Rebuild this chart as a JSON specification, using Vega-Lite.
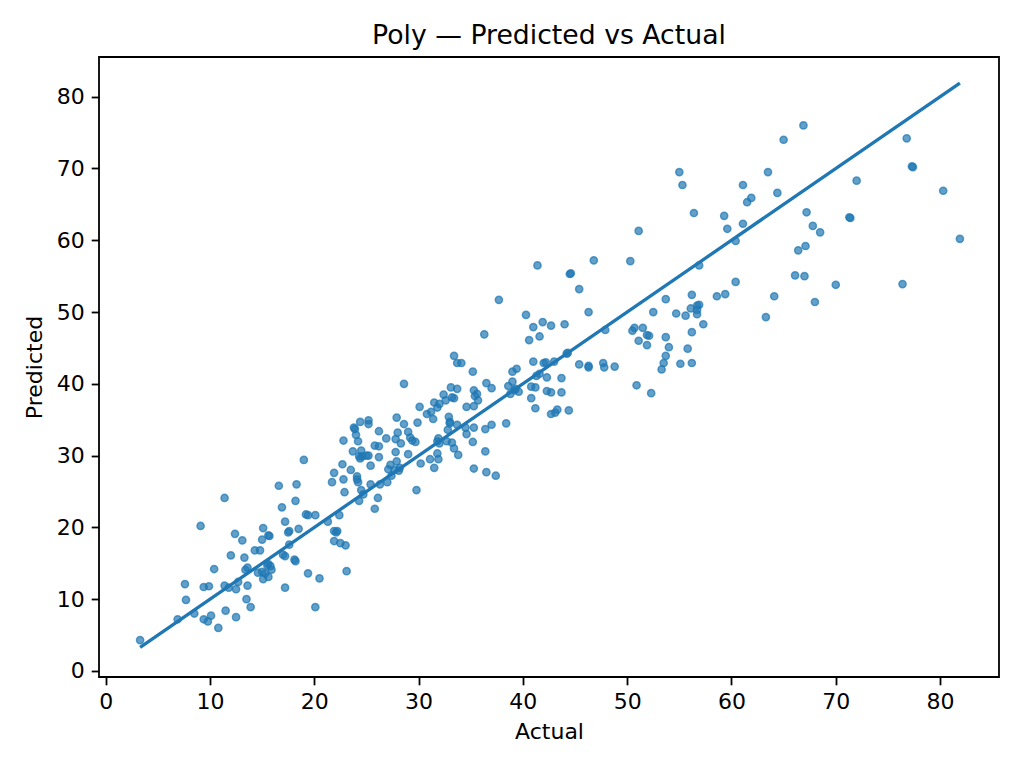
{
  "$schema": "https://vega.github.io/schema/vega-lite/v6.json",
  "width": 900,
  "height": 620,
  "autosize": {"type": "none"},
  "padding": {"left": 99, "top": 57, "right": 25, "bottom": 91},
  "background": "white",
  "config": {
    "font": "DejaVu Sans",
    "view": {"stroke": "#000000", "strokeWidth": 1.8},
    "axis": {
      "grid": false,
      "domain": false,
      "tickColor": "#000000",
      "tickSize": 7.8,
      "tickWidth": 1.8,
      "labelColor": "#000000",
      "labelFont": "DejaVu Sans",
      "labelFontSize": 22,
      "labelPadding": 7,
      "titleFont": "DejaVu Sans",
      "titleFontSize": 22,
      "titleFontWeight": "normal",
      "titleColor": "#000000"
    }
  },
  "title": {
    "text": "Poly — Predicted vs Actual",
    "font": "DejaVu Sans",
    "fontSize": 26.7,
    "fontWeight": "normal",
    "color": "#000000",
    "anchor": "middle",
    "baseline": "alphabetic",
    "offset": 13,
    "dy": 27
  },
  "datasets": {
    "points": [
      {"actual": 3.3, "predicted": 4.3}, {"actual": 11.4, "predicted": 24.1}, {"actual": 9.1, "predicted": 20.2},
      {"actual": 16.6, "predicted": 25.8}, {"actual": 18.3, "predicted": 26.0}, {"actual": 16.9, "predicted": 22.8},
      {"actual": 18.2, "predicted": 23.7}, {"actual": 19.2, "predicted": 21.8}, {"actual": 19.4, "predicted": 21.7},
      {"actual": 20.1, "predicted": 21.7}, {"actual": 17.2, "predicted": 20.8}, {"actual": 18.5, "predicted": 19.8},
      {"actual": 17.6, "predicted": 19.5}, {"actual": 17.5, "predicted": 19.3}, {"actual": 15.1, "predicted": 19.9},
      {"actual": 12.4, "predicted": 19.1}, {"actual": 13.1, "predicted": 18.2}, {"actual": 15.6, "predicted": 18.9},
      {"actual": 15.7, "predicted": 18.8}, {"actual": 15.0, "predicted": 18.3}, {"actual": 17.6, "predicted": 17.6},
      {"actual": 14.3, "predicted": 16.8}, {"actual": 14.8, "predicted": 16.8}, {"actual": 12.0, "predicted": 16.1},
      {"actual": 13.3, "predicted": 15.8}, {"actual": 17.0, "predicted": 16.2}, {"actual": 17.2, "predicted": 16.0},
      {"actual": 18.1, "predicted": 15.5}, {"actual": 18.2, "predicted": 15.3}, {"actual": 10.4, "predicted": 14.2},
      {"actual": 13.4, "predicted": 14.1}, {"actual": 13.6, "predicted": 14.4}, {"actual": 15.6, "predicted": 14.9},
      {"actual": 15.5, "predicted": 14.7}, {"actual": 15.8, "predicted": 14.6}, {"actual": 15.9, "predicted": 14.1},
      {"actual": 14.6, "predicted": 13.7}, {"actual": 15.0, "predicted": 13.8}, {"actual": 15.3, "predicted": 13.6},
      {"actual": 15.1, "predicted": 12.8}, {"actual": 15.6, "predicted": 13.1}, {"actual": 12.7, "predicted": 12.4},
      {"actual": 11.4, "predicted": 11.9}, {"actual": 11.8, "predicted": 11.6}, {"actual": 12.5, "predicted": 11.4},
      {"actual": 13.6, "predicted": 11.9}, {"actual": 9.4, "predicted": 11.7}, {"actual": 9.9, "predicted": 11.8},
      {"actual": 7.6, "predicted": 12.1}, {"actual": 7.7, "predicted": 9.9}, {"actual": 19.4, "predicted": 13.6},
      {"actual": 17.2, "predicted": 11.6}, {"actual": 13.5, "predicted": 10.0}, {"actual": 13.9, "predicted": 8.9},
      {"actual": 11.5, "predicted": 8.4}, {"actual": 12.5, "predicted": 7.5}, {"actual": 8.5, "predicted": 8.0},
      {"actual": 6.9, "predicted": 7.2}, {"actual": 9.4, "predicted": 7.2}, {"actual": 9.8, "predicted": 6.9},
      {"actual": 10.1, "predicted": 7.7}, {"actual": 10.8, "predicted": 6.0}, {"actual": 20.1, "predicted": 8.9},
      {"actual": 20.5, "predicted": 12.9},
      {"actual": 28.6, "predicted": 40.0}, {"actual": 33.1, "predicted": 39.5}, {"actual": 33.7, "predicted": 39.3},
      {"actual": 32.4, "predicted": 38.5}, {"actual": 32.6, "predicted": 37.7}, {"actual": 33.2, "predicted": 38.1},
      {"actual": 33.4, "predicted": 38.0}, {"actual": 35.3, "predicted": 39.1}, {"actual": 35.6, "predicted": 38.6},
      {"actual": 35.4, "predicted": 38.3}, {"actual": 35.7, "predicted": 37.7}, {"actual": 35.3, "predicted": 36.9},
      {"actual": 34.6, "predicted": 36.8}, {"actual": 30.1, "predicted": 36.8}, {"actual": 30.8, "predicted": 35.8},
      {"actual": 31.2, "predicted": 36.1}, {"actual": 31.4, "predicted": 35.1}, {"actual": 27.9, "predicted": 35.3},
      {"actual": 29.9, "predicted": 34.6}, {"actual": 32.9, "predicted": 35.4}, {"actual": 33.0, "predicted": 34.7},
      {"actual": 33.0, "predicted": 34.5}, {"actual": 33.7, "predicted": 34.3}, {"actual": 34.5, "predicted": 33.9},
      {"actual": 35.3, "predicted": 33.9}, {"actual": 28.6, "predicted": 34.4}, {"actual": 29.0, "predicted": 33.3},
      {"actual": 28.0, "predicted": 33.2}, {"actual": 24.4, "predicted": 34.7}, {"actual": 25.2, "predicted": 34.9},
      {"actual": 25.2, "predicted": 34.4}, {"actual": 23.8, "predicted": 33.9}, {"actual": 23.9, "predicted": 33.7},
      {"actual": 26.2, "predicted": 33.4}, {"actual": 24.0, "predicted": 32.9}, {"actual": 24.2, "predicted": 32.0},
      {"actual": 22.8, "predicted": 32.1}, {"actual": 26.9, "predicted": 32.4}, {"actual": 27.8, "predicted": 32.3},
      {"actual": 28.3, "predicted": 31.7}, {"actual": 29.2, "predicted": 32.5}, {"actual": 29.4, "predicted": 32.1},
      {"actual": 29.7, "predicted": 31.9}, {"actual": 31.9, "predicted": 32.4}, {"actual": 31.8, "predicted": 32.0},
      {"actual": 32.0, "predicted": 31.7}, {"actual": 32.7, "predicted": 32.0}, {"actual": 33.2, "predicted": 31.8},
      {"actual": 33.4, "predicted": 31.0}, {"actual": 33.8, "predicted": 30.1}, {"actual": 34.6, "predicted": 33.0},
      {"actual": 35.2, "predicted": 31.9}, {"actual": 25.8, "predicted": 31.4}, {"actual": 26.2, "predicted": 31.3},
      {"actual": 23.7, "predicted": 30.6}, {"actual": 24.5, "predicted": 30.7}, {"actual": 24.3, "predicted": 29.9},
      {"actual": 24.6, "predicted": 29.9}, {"actual": 25.0, "predicted": 30.0}, {"actual": 24.4, "predicted": 29.6},
      {"actual": 25.2, "predicted": 30.0}, {"actual": 26.2, "predicted": 29.8}, {"actual": 27.8, "predicted": 30.5},
      {"actual": 29.0, "predicted": 30.2}, {"actual": 31.1, "predicted": 29.5}, {"actual": 31.9, "predicted": 29.5},
      {"actual": 31.8, "predicted": 30.3}, {"actual": 31.5, "predicted": 28.3}, {"actual": 30.2, "predicted": 28.9},
      {"actual": 35.3, "predicted": 28.2}, {"actual": 19.0, "predicted": 29.4}, {"actual": 22.7, "predicted": 28.8},
      {"actual": 21.9, "predicted": 27.6}, {"actual": 21.7, "predicted": 26.3}, {"actual": 23.5, "predicted": 28.0},
      {"actual": 22.8, "predicted": 26.7}, {"actual": 22.9, "predicted": 24.9}, {"actual": 24.1, "predicted": 27.1},
      {"actual": 24.1, "predicted": 26.7}, {"actual": 24.2, "predicted": 26.3}, {"actual": 25.4, "predicted": 28.6},
      {"actual": 24.5, "predicted": 25.2}, {"actual": 24.7, "predicted": 24.6}, {"actual": 24.3, "predicted": 23.7},
      {"actual": 25.4, "predicted": 26.0}, {"actual": 26.3, "predicted": 26.0}, {"actual": 27.0, "predicted": 26.3},
      {"actual": 27.4, "predicted": 27.2}, {"actual": 27.1, "predicted": 28.1}, {"actual": 27.7, "predicted": 28.0},
      {"actual": 28.1, "predicted": 27.9}, {"actual": 28.2, "predicted": 28.3}, {"actual": 27.3, "predicted": 28.7},
      {"actual": 27.9, "predicted": 29.2}, {"actual": 29.8, "predicted": 25.2}, {"actual": 26.1, "predicted": 24.1},
      {"actual": 25.8, "predicted": 22.6}, {"actual": 22.4, "predicted": 21.7}, {"actual": 21.3, "predicted": 20.8},
      {"actual": 21.9, "predicted": 19.5}, {"actual": 22.2, "predicted": 19.5}, {"actual": 22.1, "predicted": 19.3},
      {"actual": 21.9, "predicted": 18.1}, {"actual": 22.5, "predicted": 17.8}, {"actual": 23.0, "predicted": 17.5},
      {"actual": 23.1, "predicted": 13.9},
      {"actual": 41.4, "predicted": 56.5}, {"actual": 46.8, "predicted": 57.2}, {"actual": 44.5, "predicted": 55.3},
      {"actual": 44.6, "predicted": 55.4}, {"actual": 45.4, "predicted": 53.2}, {"actual": 37.7, "predicted": 51.7},
      {"actual": 46.3, "predicted": 50.0}, {"actual": 40.3, "predicted": 49.6}, {"actual": 41.0, "predicted": 47.9},
      {"actual": 41.9, "predicted": 48.6}, {"actual": 42.7, "predicted": 48.1}, {"actual": 44.0, "predicted": 48.3},
      {"actual": 40.6, "predicted": 46.1}, {"actual": 41.6, "predicted": 46.6}, {"actual": 36.3, "predicted": 46.9},
      {"actual": 44.2, "predicted": 44.2}, {"actual": 44.3, "predicted": 44.3}, {"actual": 45.4, "predicted": 42.7},
      {"actual": 46.3, "predicted": 42.5}, {"actual": 46.3, "predicted": 42.3}, {"actual": 33.4, "predicted": 43.9},
      {"actual": 33.7, "predicted": 42.9}, {"actual": 34.1, "predicted": 42.9}, {"actual": 35.2, "predicted": 41.7},
      {"actual": 39.0, "predicted": 41.7}, {"actual": 39.4, "predicted": 42.1}, {"actual": 41.0, "predicted": 43.1},
      {"actual": 42.0, "predicted": 42.9}, {"actual": 42.2, "predicted": 43.0}, {"actual": 43.0, "predicted": 43.1},
      {"actual": 41.3, "predicted": 41.1}, {"actual": 41.6, "predicted": 41.4}, {"actual": 42.3, "predicted": 40.9},
      {"actual": 43.7, "predicted": 40.8}, {"actual": 36.5, "predicted": 40.1}, {"actual": 37.0, "predicted": 39.4},
      {"actual": 38.6, "predicted": 39.7}, {"actual": 39.0, "predicted": 40.3}, {"actual": 39.2, "predicted": 39.1},
      {"actual": 39.6, "predicted": 38.9}, {"actual": 38.8, "predicted": 38.6}, {"actual": 39.3, "predicted": 39.3},
      {"actual": 40.8, "predicted": 39.6}, {"actual": 41.2, "predicted": 39.5}, {"actual": 40.8, "predicted": 38.0},
      {"actual": 42.3, "predicted": 39.0}, {"actual": 42.7, "predicted": 38.8}, {"actual": 43.7, "predicted": 38.8},
      {"actual": 41.2, "predicted": 36.6}, {"actual": 42.7, "predicted": 35.8}, {"actual": 43.1, "predicted": 36.0},
      {"actual": 43.3, "predicted": 36.4}, {"actual": 44.4, "predicted": 36.3}, {"actual": 38.4, "predicted": 34.5},
      {"actual": 31.5, "predicted": 37.4}, {"actual": 31.8, "predicted": 36.7}, {"actual": 32.0, "predicted": 37.2},
      {"actual": 32.8, "predicted": 33.6}, {"actual": 36.4, "predicted": 33.7}, {"actual": 37.0, "predicted": 34.3},
      {"actual": 36.4, "predicted": 30.6}, {"actual": 36.5, "predicted": 27.7}, {"actual": 37.4, "predicted": 27.2},
      {"actual": 55.0, "predicted": 69.5}, {"actual": 55.3, "predicted": 67.7}, {"actual": 63.5, "predicted": 69.5},
      {"actual": 61.1, "predicted": 67.7}, {"actual": 64.4, "predicted": 66.6}, {"actual": 61.9, "predicted": 65.9},
      {"actual": 61.5, "predicted": 65.3}, {"actual": 56.4, "predicted": 63.8}, {"actual": 59.3, "predicted": 63.4},
      {"actual": 59.6, "predicted": 61.6}, {"actual": 61.1, "predicted": 62.3}, {"actual": 51.1, "predicted": 61.3},
      {"actual": 60.4, "predicted": 59.9}, {"actual": 50.3, "predicted": 57.1}, {"actual": 56.9, "predicted": 56.5},
      {"actual": 66.4, "predicted": 58.6}, {"actual": 66.1, "predicted": 55.1}, {"actual": 60.4, "predicted": 54.2},
      {"actual": 64.1, "predicted": 52.2}, {"actual": 63.3, "predicted": 49.3}, {"actual": 53.7, "predicted": 51.8},
      {"actual": 56.2, "predicted": 52.4}, {"actual": 58.6, "predicted": 52.2}, {"actual": 59.4, "predicted": 52.5},
      {"actual": 52.5, "predicted": 50.0}, {"actual": 54.7, "predicted": 49.8}, {"actual": 55.6, "predicted": 49.5},
      {"actual": 56.1, "predicted": 50.5}, {"actual": 56.7, "predicted": 50.9}, {"actual": 56.9, "predicted": 51.0},
      {"actual": 56.7, "predicted": 50.3}, {"actual": 56.7, "predicted": 49.7}, {"actual": 57.3, "predicted": 48.3},
      {"actual": 56.2, "predicted": 47.2}, {"actual": 47.9, "predicted": 47.5}, {"actual": 50.7, "predicted": 47.8},
      {"actual": 50.5, "predicted": 47.4}, {"actual": 51.5, "predicted": 47.8}, {"actual": 51.9, "predicted": 46.8},
      {"actual": 52.1, "predicted": 46.7}, {"actual": 51.1, "predicted": 46.0}, {"actual": 51.9, "predicted": 45.4},
      {"actual": 53.7, "predicted": 46.5}, {"actual": 54.0, "predicted": 45.1}, {"actual": 55.8, "predicted": 44.9},
      {"actual": 53.7, "predicted": 43.9}, {"actual": 53.5, "predicted": 42.9}, {"actual": 53.3, "predicted": 42.0},
      {"actual": 55.1, "predicted": 42.8}, {"actual": 56.2, "predicted": 42.9}, {"actual": 47.7, "predicted": 42.9},
      {"actual": 47.8, "predicted": 42.3}, {"actual": 48.8, "predicted": 42.4}, {"actual": 50.9, "predicted": 39.8},
      {"actual": 52.3, "predicted": 38.7},
      {"actual": 66.9, "predicted": 76.0}, {"actual": 65.0, "predicted": 74.0}, {"actual": 76.8, "predicted": 74.2},
      {"actual": 77.4, "predicted": 70.2}, {"actual": 77.3, "predicted": 70.3}, {"actual": 72.0, "predicted": 68.3},
      {"actual": 80.3, "predicted": 66.9}, {"actual": 67.2, "predicted": 63.9}, {"actual": 71.4, "predicted": 63.1},
      {"actual": 71.3, "predicted": 63.2}, {"actual": 67.8, "predicted": 62.0}, {"actual": 68.5, "predicted": 61.1},
      {"actual": 81.9, "predicted": 60.2}, {"actual": 67.1, "predicted": 59.2}, {"actual": 67.0, "predicted": 55.0},
      {"actual": 70.0, "predicted": 53.8}, {"actual": 76.4, "predicted": 53.9}, {"actual": 68.0, "predicted": 51.4}
    ],
    "ideal": [
      {"actual": 3.3, "predicted": 3.3},
      {"actual": 81.9, "predicted": 81.9}
    ]
  },
  "encoding": {
    "x": {
      "field": "actual",
      "type": "quantitative",
      "title": "Actual",
      "scale": {"domain": [-0.64, 85.65], "nice": false, "zero": false},
      "axis": {"values": [0, 10, 20, 30, 40, 50, 60, 70, 80], "titlePadding": 9}
    },
    "y": {
      "field": "predicted",
      "type": "quantitative",
      "title": "Predicted",
      "scale": {"domain": [-0.84, 85.53], "nice": false, "zero": false},
      "axis": {"values": [0, 10, 20, 30, 40, 50, 60, 70, 80], "titlePadding": 10}
    }
  },
  "layer": [
    {
      "data": {"name": "points"},
      "mark": {
        "type": "circle",
        "size": 52,
        "color": "#1f77b4",
        "fillOpacity": 0.7,
        "stroke": "#1f77b4",
        "strokeOpacity": 0.7,
        "strokeWidth": 1.5
      }
    },
    {
      "data": {"name": "ideal"},
      "mark": {"type": "line", "color": "#1f77b4", "strokeWidth": 3.3}
    }
  ]
}
